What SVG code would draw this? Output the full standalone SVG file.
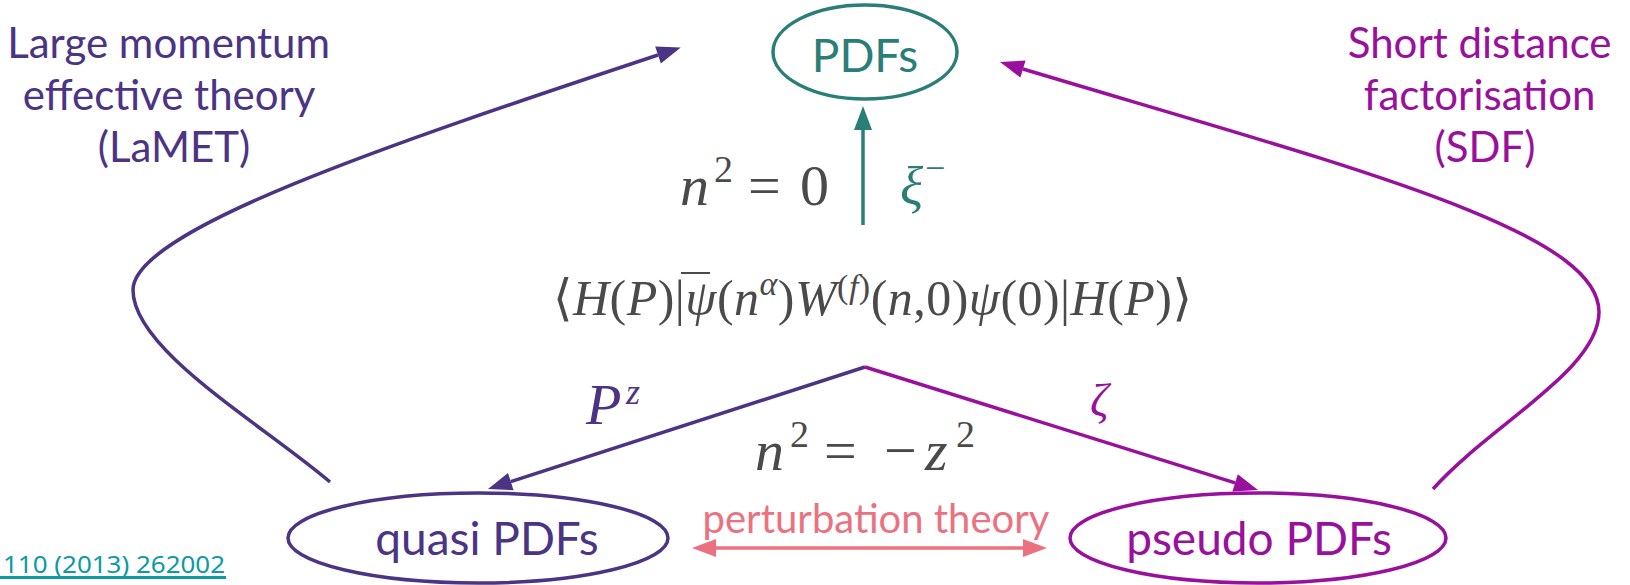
<svg xmlns="http://www.w3.org/2000/svg" width="1630" height="585" viewBox="0 0 1630 585">
<style>
  .sans { font-family: Lato, "Open Sans", "Noto Sans", sans-serif; }
  .math { font-family: "Liberation Serif", "DejaVu Serif", "DejaVu Sans", serif; fill: #4a4a4a; }
  .it { font-style: italic; }
  .purple { fill: #4b3484; }
  .magenta { fill: #99109c; }
  .teal { fill: #2a7e78; }
  .pink { fill: #ec7180; }
  .node { fill: none; stroke-width: 3.5; }
  .conn { fill: none; stroke-width: 3.5; }
</style>
<defs>
  <marker id="ah-teal" markerWidth="24" markerHeight="18" refX="0" refY="9" orient="auto" markerUnits="userSpaceOnUse" overflow="visible"><path d="M0,0 L24,9 L0,18 z" fill="#2a7e78"/></marker>
  <marker id="ah-purple" markerWidth="24" markerHeight="18" refX="0" refY="9" orient="auto" markerUnits="userSpaceOnUse" overflow="visible"><path d="M0,0 L24,9 L0,18 z" fill="#4b3484"/></marker>
  <marker id="ah-magenta" markerWidth="24" markerHeight="18" refX="0" refY="9" orient="auto" markerUnits="userSpaceOnUse" overflow="visible"><path d="M0,0 L24,9 L0,18 z" fill="#99109c"/></marker>
  <marker id="ah-pink" markerWidth="24" markerHeight="18" refX="0" refY="9" orient="auto-start-reverse" markerUnits="userSpaceOnUse" overflow="visible"><path d="M0,0 L24,9 L0,18 z" fill="#ec7180"/></marker>
</defs>
<rect width="1630" height="585" fill="#ffffff"/>

<g id="connectors">
  <line class="conn" x1="863" y1="225" x2="863" y2="130" stroke="#2a7e78" marker-end="url(#ah-teal)"/>
  <line class="conn" x1="865" y1="367" x2="510.8" y2="481.6" stroke="#4b3484" marker-end="url(#ah-purple)"/>
  <line class="conn" x1="865" y1="367" x2="1235.1" y2="482.8" stroke="#99109c" marker-end="url(#ah-magenta)"/>
  <path class="conn" d="M330,482 C262,424 133,350 133,290 C133,230 390,144 658,55" stroke="#4b3484" stroke-width="3" marker-end="url(#ah-purple)"/>
  <path class="conn" d="M1433,489 C1490,425 1599,370 1599,312 C1599,230 1350,167 1023,69" stroke="#99109c" stroke-width="3" marker-end="url(#ah-magenta)"/>
  <line class="conn" x1="716" y1="548" x2="1023" y2="548" stroke="#ec7180" marker-start="url(#ah-pink)" marker-end="url(#ah-pink)"/>
</g>

<g id="node-pdfs">
  <ellipse class="node" cx="865" cy="52" rx="92" ry="47" stroke="#2a7e78"/>
  <text class="sans teal" x="865" y="72" font-size="46" text-anchor="middle">PDFs</text>
</g>

<g id="node-quasi">
  <ellipse class="node" cx="478" cy="538" rx="190" ry="45" stroke="#4b3484"/>
  <text class="sans purple" x="487" y="555" font-size="46" text-anchor="middle">quasi PDFs</text>
</g>

<g id="node-pseudo">
  <ellipse class="node" cx="1258" cy="538" rx="188" ry="45" stroke="#99109c"/>
  <text class="sans magenta" x="1259" y="555" font-size="46" text-anchor="middle">pseudo PDFs</text>
</g>

<g id="label-lamet">
  <text class="sans purple" font-size="42" text-anchor="middle">
    <tspan x="174" y="58">Large momentum</tspan>
    <tspan x="174" y="110">effective theory</tspan>
    <tspan x="174" y="162">(LaMET)</tspan>
  </text>
</g>

<g id="label-sdf">
  <text class="sans magenta" font-size="42" text-anchor="middle">
    <tspan x="1485" y="58">Short distance</tspan>
    <tspan x="1485" y="110">factorisation</tspan>
    <tspan x="1485" y="162">(SDF)</tspan>
  </text>
</g>

<g id="label-n2-zero">
  <text class="math" y="205" font-size="58"><tspan x="680" class="it">n</tspan><tspan x="714" dy="-23" font-size="38">2</tspan><tspan x="748" dy="23">=</tspan><tspan x="800">0</tspan></text>
</g>

<g id="label-xi">
  <text class="math it" y="205" font-size="54" style="fill:#2a7e78"><tspan x="900">ξ</tspan><tspan x="925" dy="-25" font-size="36" style="font-style:normal">−</tspan></text>
</g>

<g id="label-operator">
  <text class="math" x="553" y="315" font-size="50" textLength="639" lengthAdjust="spacing">⟨<tspan class="it">H</tspan>(<tspan class="it">P</tspan>)|<tspan class="it">ψ</tspan>(<tspan class="it">n</tspan><tspan dy="-20" font-size="34" class="it">α</tspan><tspan dy="20">)</tspan><tspan class="it">W</tspan><tspan dy="-17" font-size="34">(<tspan class="it">f</tspan>)</tspan><tspan dy="17">(</tspan><tspan class="it">n</tspan>,0)<tspan class="it">ψ</tspan>(0)|<tspan class="it">H</tspan>(<tspan class="it">P</tspan>)⟩</text>
  <line x1="681" y1="273" x2="710" y2="273" stroke="#4a4a4a" stroke-width="2"/>
</g>

<g id="label-pz">
  <text class="math it" y="424" font-size="58" style="fill:#4b3484"><tspan x="586">P</tspan><tspan x="626" dy="-20" font-size="36">z</tspan></text>
</g>

<g id="label-zeta">
  <text class="math it" x="1090" y="416" font-size="46" style="fill:#99109c">ζ</text>
</g>

<g id="label-n2-z2">
  <text class="math" y="470" font-size="58"><tspan x="755" class="it">n</tspan><tspan x="790" dy="-23" font-size="38">2</tspan><tspan x="824" dy="23">=</tspan><tspan x="884">−</tspan><tspan x="925" class="it">z</tspan><tspan x="956" dy="-23" font-size="38">2</tspan></text>
</g>

<g id="label-perturbation">
  <text class="sans pink" x="876" y="533" font-size="40" text-anchor="middle">perturbation theory</text>
</g>

<g id="label-reference">
  <text x="3" y="573" font-size="24" textLength="222" lengthAdjust="spacingAndGlyphs" style="font-family:'Noto Sans', Lato, sans-serif; fill:#0b9aa6">110 (2013) 262002</text>
  <line x1="0" y1="577.5" x2="226" y2="577.5" stroke="#0b9aa6" stroke-width="3"/>
</g>
</svg>
